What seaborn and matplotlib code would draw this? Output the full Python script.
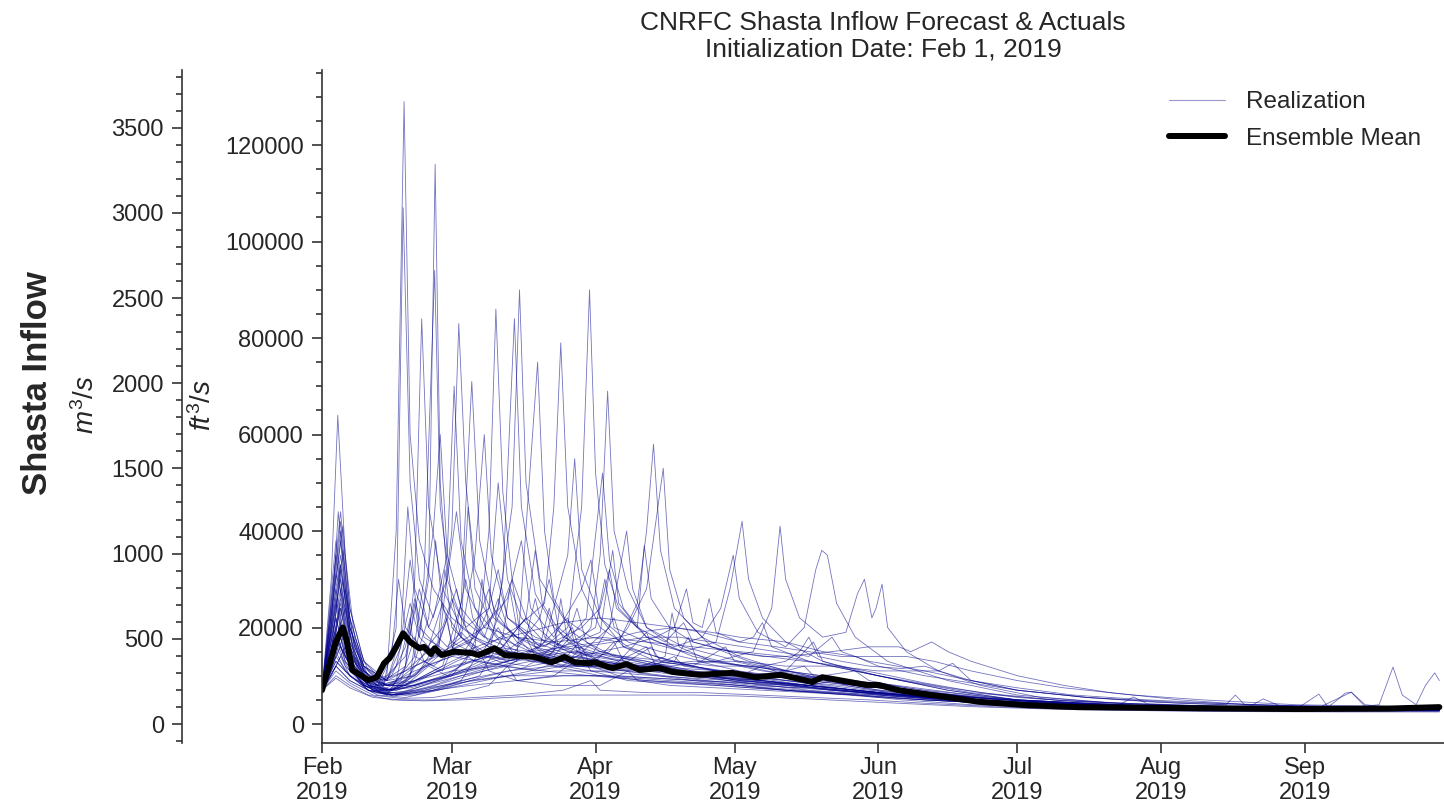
import numpy as np
import pandas as pd
import matplotlib
matplotlib.use("Agg")
import matplotlib.pyplot as plt
import matplotlib.dates as mdates
from matplotlib.ticker import MultipleLocator
from matplotlib.lines import Line2D
import seaborn as sns

# ---------------- data (day offset from Feb 1 2019, flow in 1000 ft^3/s) -------------
START = "2019-02-01"
month_ticks = ["2019-02-01", "2019-03-01", "2019-04-01", "2019-05-01",
               "2019-06-01", "2019-07-01", "2019-08-01", "2019-09-01"]

r01 = [(0,7),(2,14),(4,24),(6,14),(10,9),(14,10),(16,40),(17.7,129),(19,60),(21,38),(24,28),(28,22),(33,18),(40,15),(50,12),(60,10),(75,9),(90,8),(110,6.5),(130,5),(150,4),(180,3.2),(210,2.9),(241,2.8)]
r02 = [(0,7),(3,18),(5,12),(10,7.5),(16,9),(20,14),(23,30),(24.4,116),(25.5,50),(27,30),(30,22),(35,18),(38,26),(40,20),(45,15),(55,12),(65,11),(80,9),(100,7),(120,5.5),(150,4),(180,3.3),(210,3),(241,2.9)]
r03 = [(0,7),(3,35),(5,20),(8,10),(12,8),(18,12),(20,30),(21.5,84),(23,45),(26,28),(30,20),(36,16),(45,14),(52,13),(58,20),(60,35),(61.6,69),(63,40),(66,28),(70,20),(78,16),(90,13),(105,10),(120,8),(135,6),(150,4.5),(180,3.5),(210,3),(241,3)]
r04 = [(0,7),(4,28),(6,16),(10,8),(15,7),(20,10),(25,14),(28,40),(29.5,83),(31,50),(33,32),(37,22),(42,18),(48,16),(53,20),(56,45),(57.7,90),(59,52),(61,33),(64,24),(70,18),(80,14),(95,11),(110,9),(125,7),(150,5),(180,3.6),(210,3.1),(241,3)]
r05 = [(0,7),(3,22),(5,14),(9,8),(14,6.5),(20,9),(26,12),(30,25),(32.3,71),(34,38),(37,24),(42,17),(48,14),(55,12),(62,15),(66,20),(70,28),(73.6,53),(75,32),(78,22),(84,16),(92,13),(105,10),(120,7),(140,5),(160,4),(190,3.3),(220,3),(241,2.9)]
r06 = [(0,7),(4,42),(6,22),(9,12),(13,9),(18,11),(24,16),(30,14),(34,20),(36,40),(37.5,86),(39,48),(41,30),(44,22),(50,17),(58,14),(65,13),(72,12),(80,10),(95,8),(110,7),(130,5.5),(150,4.2),(180,3.4),(210,3),(241,2.9)]
r07 = [(0,7),(3,15),(5,11),(10,7),(15,6),(22,8),(30,11),(36,14),(39,30),(41.5,84),(43,45),(46,27),(50,20),(55,16),(62,14),(70,13),(78,11),(90,9),(105,8),(120,6),(140,4.5),(160,3.8),(190,3.2),(220,3),(241,2.8)]
r08 = [(0,7),(4,30),(6,17),(10,9),(15,8),(20,12),(27,15),(33,18),(38,24),(41,45),(42.6,90),(44,50),(47,30),(52,22),(58,18),(64,17),(68,25),(70,40),(71.5,58),(73,36),(76,24),(82,18),(90,14),(100,11),(115,9),(130,7),(150,5),(180,3.6),(210,3.1),(241,3)]
r09 = [(0,7),(3,25),(5,15),(9,9),(15,7),(20,9),(28,13),(35,16),(42,20),(48,25),(50,45),(51.5,79),(53,45),(56,28),(60,20),(66,16),(75,13),(85,11),(100,9),(115,7),(130,5.5),(150,4.3),(180,3.4),(210,3),(241,2.9)]
r10 = [(0,7),(4,20),(7,12),(11,7),(16,6),(22,8),(30,10),(40,12),(50,14),(57,22),(60.5,52),(62,34),(65,24),(70,18),(78,15),(85,17),(88,28),(90.6,42),(92,30),(95,22),(100,17),(108,13),(120,10),(135,7),(150,5),(180,3.6),(210,3.1),(241,3)]
r11 = [(0,7),(3,12),(6,9),(12,6),(18,5.5),(25,7),(35,9),(45,11),(55,14),(62,20),(65.7,40),(67,28),(70,20),(76,16),(82,18),(86,24),(88.7,35),(90,26),(94,19),(100,16),(104,20),(106.5,32),(107.8,36),(109,35),(111,25),(115,18),(122,13),(135,9),(150,6),(170,4.4),(200,3.4),(241,3)]
r12 = [(0,7),(4,35),(6,20),(9,11),(14,8),(20,9),(28,12),(36,14),(46,13),(55,12),(65,12),(75,12),(85,13),(93,15),(97,24),(98.8,41),(100,30),(103,22),(108,18),(113,19),(115.5,27),(117,30),(118.6,22),(119.5,24),(120.8,29),(122,20),(126,15),(133,11),(142,8),(155,5.5),(175,4),(205,3.3),(241,3)]
r13 = [(0,7),(3,19),(5,13),(9,8),(14,6),(20,6),(28,8),(36,10),(45,12),(55,14),(65,16),(72,18),(76,20),(78.6,28),(80,21),(82,20),(83.5,26),(85,19),(90,17),(93,18),(95,21),(97,16),(105,13),(115,11),(125,9),(135,7),(150,5),(170,4),(200,3.3),(241,3)]
r14 = [(0,7),(4,40),(6,22),(9,12),(14,9),(20,12),(28,16),(35,20),(42,18),(50,17),(60,18),(70,17),(80,16),(90,15),(100,14),(110,15),(118,16),(124.4,16),(127,15),(131.5,17),(135,15),(140,13),(150,10),(160,8),(170,6.5),(185,5),(200,4),(220,3.5),(241,3.2)]
r15 = [(0,7),(3,13),(6,10),(10,7),(15,6),(22,7),(30,9),(40,11),(50,12),(60,12),(70,12),(80,13),(90,13),(100,12),(110,12),(120,11),(128,11),(133,11),(136,12.6),(140,9),(150,7),(165,5.5),(180,4.5),(195,4),(197,6),(199,4),(215,3.5),(241,3.2)]
r16 = [(0,7),(4,16),(7,11),(12,7),(18,6),(25,7),(32,9),(40,10),(50,10),(60,10),(70,9),(80,8.5),(90,8),(100,7),(115,6),(130,5),(150,4),(175,3.4),(200,3.2),(220,3.2),(228,4),(231,11.8),(233,6),(236,4),(238,8),(240,10.6),(241,9)]
r17 = [(0,7),(3,28),(5,17),(9,9),(14,7),(20,9),(28,11),(38,12),(48,11),(58,10),(70,9),(85,8),(100,7),(120,6),(140,4.6),(160,3.8),(190,3.2),(210,3),(215,6.2),(217,3.5),(219,5),(220.7,6.4),(222,6.6),(225,4),(230,3.5),(241,3.2)]
r18 = [(0,7),(2,30),(3.4,64),(5,35),(7,18),(10,11),(14,8),(20,8),(26,10),(32,13),(40,15),(48,14),(56,13),(64,12),(72,11),(82,10),(95,9),(110,7.5),(125,6),(140,4.8),(160,3.8),(190,3.2),(220,3),(241,2.9)]
r19 = [(0,7),(3,20),(5,13),(9,8),(13,7),(16,20),(17.5,107),(19,50),(21,30),(24,22),(27,35),(28.5,70),(30,38),(33,24),(38,18),(45,15),(55,13),(65,12),(75,11),(90,9),(105,8),(120,6.5),(140,5),(160,4),(190,3.3),(220,3),(241,2.9)]
r20 = [(0,7),(4,25),(6,15),(10,8),(15,7),(19,10),(22,30),(24.3,94),(25.5,45),(28,26),(32,18),(38,15),(44,22),(46,36),(47.5,25),(52,18),(60,15),(70,13),(80,11),(95,9),(110,7),(125,6),(145,4.6),(170,3.7),(200,3.2),(241,3)]
r21 = [(0,7),(3,16),(6,11),(10,7),(14,6),(18,12),(20,25),(21,18),(25,14),(30,18),(33,35),(35,60),(36.5,35),(40,22),(46,17),(54,14),(62,13),(70,12),(80,10),(92,8.5),(105,7),(120,6),(140,4.6),(165,3.7),(200,3.2),(241,3)]
r22 = [(0,7),(4,44),(6,24),(9,13),(13,9),(18,14),(21,28),(23,20),(27,30),(29,44),(31,28),(35,20),(40,26),(43,38),(45,24),(50,18),(56,28),(58,34),(60,22),(65,16),(72,14),(80,12),(90,10),(105,8),(120,6.5),(140,5),(165,3.8),(200,3.2),(241,3)]
r23 = [(0,7),(3,10),(6,8),(10,6),(15,5),(22,4.8),(30,5),(40,5.5),(50,6),(60,6),(70,6),(80,6),(90,5.8),(105,5.2),(120,4.5),(140,3.6),(160,3),(190,2.6),(220,2.5),(241,2.5)]
r24 = [(0,7),(3,12),(6,9),(11,6.5),(16,6),(24,7),(30,9),(34,15),(36,11),(42,9),(50,10),(56,14),(58,11),(66,9),(75,8.5),(85,8),(100,7),(115,6),(130,5),(150,4),(175,3.3),(210,2.9),(241,2.8)]
r25 = [(0,7),(3,14),(6,10),(11,7),(16,7),(24,9),(32,11),(40,13),(48,15),(55,17),(60,19),(62.7,36),(64,25),(68,20),(69.5,37),(71,26),(75,20),(80,17),(88,15),(95,14),(100,14),(110,12),(120,10),(135,7.5),(150,5.5),(170,4.2),(200,3.4),(241,3.1)]
r26 = [(0,7),(4,33),(6,19),(9,11),(13,8),(16,9),(19,22),(20,14),(24,12),(28,15),(31,30),(32.5,22),(36,17),(41,30),(42.5,20),(47,16),(53,22),(55,15),(60,13),(68,12),(76,11),(88,10),(100,9),(112,8),(125,6.5),(140,5),(160,4),(190,3.3),(241,3)]
r27 = [(0,7),(3,18),(6,12),(10,8),(14,7),(18,9),(23,16),(26,25),(28,17),(34,14),(38,20),(41,15),(48,13),(54,20),(56,14),(62,12),(70,16),(72,12),(80,11),(90,10),(95,12),(100,10),(110,9),(120,8),(135,6),(150,4.8),(175,3.7),(210,3.1),(241,3)]
r28 = [(0,7),(3,22),(5,14),(9,9),(14,7),(20,8),(27,10),(35,12),(45,14),(55,15),(65,14),(75,13),(85,12),(95,12),(100,13),(103,15),(105,18),(107,14),(112,13),(118,12),(125,11.5),(130,12),(133,11),(140,9),(150,7),(165,5.5),(185,4.3),(210,3.5),(241,3.2)]
r29 = [(0,7),(4,38),(6,20),(9,12),(14,9),(17,16),(19,34),(21,20),(25,16),(29,28),(31,20),(36,24),(38,32),(40,22),(46,18),(52,16),(59,20),(61,30),(63,20),(70,17),(78,15),(86,13),(96,11),(108,9),(120,7.5),(135,6),(150,4.8),(175,3.7),(210,3.1),(241,3)]
r30 = [(0,7),(3,11),(6,8.5),(11,6),(17,5.3),(24,5.5),(30,6.5),(36,8),(40,12),(42,9),(50,8),(60,8),(66,11),(68,9),(75,8),(85,7.5),(95,7),(105,6.5),(115,6),(125,5),(140,4),(160,3.3),(190,2.8),(220,2.7),(241,2.7)]
r31 = [(0,7),(3,30),(4.5,41),(6,24),(9,13),(14,9),(20,10),(24,14),(27,22),(28,16),(33,13),(39,16),(44,22),(46,16),(53,14),(60,13),(67,12),(76,13),(79,18),(81,13),(90,11),(100,9.5),(110,8.5),(120,7.5),(135,6),(155,4.5),(180,3.6),(210,3.1),(241,3)]
r32 = [(0,7),(3,13),(6,10),(11,7),(16,6),(24,7),(32,8),(42,9),(52,10),(62,10),(72,9.5),(82,9),(92,8.5),(102,8),(112,7),(125,6),(140,5),(160,4.2),(172,4),(175,5.6),(178,4.2),(190,3.8),(200,3.6),(203,5.2),(207,3.6),(215,3.4),(222,6.6),(225,3.6),(241,3.3)]
r33 = [(0,7),(3,26),(5,16),(9,10),(14,8),(20,11),(28,14),(36,17),(44,19),(52,21),(60,22),(68,21),(76,20),(84,19),(90,18),(100,17),(108,15),(115,14),(120,12),(130,10),(140,8.5),(150,7),(165,5.5),(185,4.5),(210,3.8),(241,3.4)]
r34 = [(0,7),(4,24),(6,15),(10,9),(15,7),(21,9),(29,13),(37,16),(45,15),(53,16),(60,17),(68,19),(76,20),(82,19),(90,17),(98,16),(105,15),(112,14),(120,14),(126,14),(132,13),(140,11),(150,9),(160,7.5),(175,6),(190,5),(210,4),(241,3.5)]
r35 = [(0,7),(3,38),(5,22),(8,12),(12,8),(18,8),(25,11),(33,13),(40,12),(47,16),(49,24),(51,16),(58,13),(66,12),(74,11),(84,10),(94,9),(104,8),(116,7),(130,5.5),(150,4.2),(175,3.4),(210,3),(241,2.9)]
r36 = [(0,7),(3,9.5),(6,7.5),(11,5.5),(17,5),(25,5),(33,5.5),(42,6),(52,7),(58,9),(60,7),(70,6.5),(82,6.5),(94,6),(106,5.5),(118,5),(130,4.3),(145,3.6),(165,3),(195,2.7),(241,2.6)]
r37 = [(0,7),(2,15),(4,32),(6,18),(9,10),(12,8),(15,14),(16.5,30),(18,20),(22,15),(26,20),(28,26),(30,18),(35,14),(42,13),(46.5,75),(48,40),(50,26),(54,19),(60,15),(68,13),(78,11),(90,9.5),(105,8),(120,6.5),(140,5),(165,3.9),(200,3.2),(241,3)]
r38 = [(0,7),(2,12),(4,26),(6,16),(9,9),(13,7),(17,9),(20,18),(22,13),(26,11),(30,20),(31.5,45),(33,28),(37,20),(42,16),(47,22),(49,30),(51,20),(57,15),(64,13),(70,19),(72,14),(80,12),(92,10),(105,8.5),(118,7),(135,5.5),(155,4.3),(185,3.4),(241,3)]
r39 = [(0,7),(3,20),(4.5,30),(6,17),(9,10),(13,8),(16,12),(19,25),(21,18),(24,40),(25.5,60),(27,35),(30,24),(35,18),(40,16),(45,14),(52,13),(58,12),(63,17),(65,13),(72,11),(82,10),(95,8.5),(110,7),(125,5.8),(145,4.5),(170,3.6),(205,3.1),(241,2.9)]
r40 = [(0,7),(3,17),(5,24),(7,14),(10,9),(14,7),(18,8),(23,12),(27,10),(31,13),(36,24),(38,50),(40,30),(43,22),(48,17),(53,15),(58,14),(63,22),(65,16),(72,13),(80,12),(87,16),(89,13),(98,11),(110,9),(125,7),(140,5.5),(160,4.3),(190,3.4),(241,3)]
r41 = [(0,7),(2,13),(4,20),(6,13),(9,8),(13,6.5),(18,6.5),(24,8),(30,10),(37,12),(43,14),(48,17),(53,35),(54.5,55),(56,32),(60,22),(66,17),(73,15),(82,13),(92,12),(100,11),(106,17),(108,13),(115,11),(125,9),(140,6.5),(160,4.8),(185,3.8),(215,3.2),(241,3)]
r42 = [(0,7),(3,25),(4,33),(6,20),(9,12),(12,9),(15,10),(18,16),(20,26),(22,18),(27,15),(32,17),(36,28),(37.5,22),(42,18),(48,15),(55,13),(62,12),(70,11),(78,10),(85,9.5),(95,9),(105,8),(115,7),(128,5.8),(145,4.6),(170,3.7),(200,3.2),(241,3)]
r43 = [(0,7),(2,11),(4,18),(6,12),(10,8),(14,7),(19,7.5),(25,9),(31,11),(37,13),(44,15),(50,17),(56,20),(60,24),(62,32),(63.5,24),(68,20),(74,17),(78,21),(80,17),(88,15),(96,14),(104,13),(112,12),(120,10.5),(130,8.5),(142,6.5),(158,5),(180,4),(210,3.4),(241,3.1)]
r44 = [(0,7),(3,14),(5,19),(7,12),(11,7.5),(15,6.5),(20,7),(26,8),(33,9),(41,10),(50,11),(57,11),(63,11),(70,11.5),(76,14),(78,12),(85,11),(95,10),(105,9),(115,8),(125,7),(140,5.5),(160,4.3),(190,3.3),(241,2.9)]
r45 = [(0,7),(3,31),(5,24),(7,14),(10,10),(14,9),(17,18),(18.5,45),(20,28),(23,20),(27,16),(30,19),(34,15),(40,13),(44,18),(46,14),(52,12),(58,11),(65,10.5),(72,10),(80,9.5),(88,9),(96,8.5),(106,7.5),(118,6.5),(132,5.2),(150,4.2),(175,3.4),(210,3),(241,2.9)]
r46 = [(0,7),(2,10),(4,14),(6,10),(10,7),(15,6),(20,6.5),(27,8),(34,10),(39,18),(40.5,28),(42,20),(47,15),(53,13),(60,12),(67,11),(74,14),(75.5,23),(77,16),(84,13),(92,12),(100,11),(108,10),(115,11),(118,9),(126,7.5),(140,5.5),(160,4.2),(190,3.3),(241,2.9)]
r47 = [(0,7),(3,23),(4.5,36),(6,20),(9,11),(13,8),(17,8),(21,11),(25,17),(26.5,32),(28,20),(33,15),(38,13),(44,12),(50,15),(51.5,26),(53,17),(60,13),(67,12),(75,11),(83,10),(92,9),(102,8),(112,7),(125,6),(140,4.8),(160,3.9),(195,3.2),(241,2.9)]
r48 = [(0,7),(2,12),(4,21),(6,13),(9,8.5),(13,7),(18,7.5),(23,9),(28,10),(33,16),(34.5,30),(36,20),(40,15),(45,13),(51,12),(58,12),(66,11),(74,10),(83,9),(93,8),(103,7.5),(110,9),(113,8),(122,6.5),(135,5.2),(150,4.2),(175,3.4),(205,3),(241,2.8)]
r49 = [(0,7),(3,16),(5,28),(7,16),(10,9.5),(14,8),(19,10),(23,22),(24.5,38),(26,24),(30,18),(35,15),(41,14),(47,14),(53,18),(55,24),(57,17),(63,14),(70,12.5),(78,11.5),(86,11),(94,10.5),(103,10),(112,9),(120,8),(132,6.5),(145,5.2),(165,4.2),(195,3.4),(241,3.1)]
r50 = [(0,7),(3,18),(5,14),(8,9),(12,7),(16,7),(21,8.5),(27,10),(33,12),(38,14),(44,18),(46,26),(48,18),(54,15),(60,14),(66,13),(71,16),(73,13),(79,12),(87,11),(96,10),(104,12),(106,10),(114,9),(124,8),(136,6.5),(150,5),(170,4),(200,3.3),(241,3)]
r51 = [(0,7),(2,20),(3.5,44),(5,28),(7,16),(10,10),(14,8),(18,9),(22,12),(28,14),(34,13),(40,12),(46,11),(52,12),(56,16),(58,12),(64,10),(72,9.5),(80,9),(90,8.5),(100,8),(110,7),(122,6),(136,5),(152,4),(180,3.3),(210,3),(241,2.9)]
r52 = [(0,7),(3,12),(5,16),(7,11),(11,7),(15,6),(21,7),(28,9),(35,11),(42,13),(49,15),(56,16),(63,17),(70,18),(77,18),(84,17),(91,16),(98,15),(105,14),(110,18),(112,15),(118,13),(124,12),(130,11),(140,9),(150,7.5),(162,6),(178,5),(200,4),(225,3.5),(241,3.3)]

realizations = [r01, r02, r03, r04, r05, r06, r07, r08, r09, r10, r11, r12,
                r13, r14, r15, r16, r17, r18, r19, r20, r21, r22, r23, r24,
                r25, r26, r27, r28, r29, r30, r31, r32, r33, r34, r35, r36,
                r37, r38, r39, r40, r41, r42, r43, r44, r45, r46, r47, r48,
                r49, r50, r51, r52]

mean_days = [0, 1.5, 3, 4.5, 5.3, 6.5, 10, 11.8, 13.4, 14.6, 16, 17.5, 19, 21, 22, 23.5, 24.3,
             25.8, 28.6, 32.3, 33.8, 37.2, 39.4, 45.9, 49.5, 52.3, 54.5, 57.5, 58.8, 61.8,
             62.7, 65.7, 68.5, 72.8, 75.6, 81.4, 88.5, 93.6, 99, 105.7, 107.9, 111.5, 117.3,
             120, 124.4, 127, 134.5, 141.7, 152, 163, 185, 210, 230, 241]
mean_kcfs = [7, 12, 17, 20, 17.4, 11.2, 9.1, 9.7, 12.6, 13.7, 16, 18.8, 17, 15.7, 16, 14.5, 15.7,
             14.3, 15, 14.7, 14.3, 15.7, 14.3, 13.9, 12.8, 13.9, 12.8, 12.6, 12.8, 11.8,
             11.6, 12.4, 11.2, 11.6, 10.8, 10.2, 10.6, 9.7, 10.2, 8.7, 9.7, 9.1, 8.1,
             8.1, 7, 6.6, 5.6, 4.6, 3.9, 3.5, 3.3, 3.1, 3.2, 3.5]

CFS_PER_CMS = 35.3147

# ---------------- build tables ----------------
start = pd.Timestamp(START)
rows = []
for i, r in enumerate(realizations):
    for d, v in r:
        rows.append((i, start + pd.to_timedelta(d, unit="D"), v * 1000.0))
real_df = pd.DataFrame(rows, columns=["member", "date", "cfs"])
mean_df = pd.DataFrame({
    "date": [start + pd.to_timedelta(d, unit="D") for d in mean_days],
    "cfs": [v * 1000.0 for v in mean_kcfs],
})

# ---------------- style ----------------
sns.set_theme(style="ticks")
plt.rcParams["font.family"] = ["Liberation Sans", "DejaVu Sans"]
plt.rcParams["mathtext.fontset"] = "custom"
plt.rcParams["mathtext.it"] = "Liberation Sans:italic"
plt.rcParams["mathtext.rm"] = "Liberation Sans"
plt.rcParams["mathtext.bf"] = "Liberation Sans:bold"
TXT = "#262626"

fig = plt.figure(figsize=(14.44, 8.05), dpi=100)
ax = fig.add_axes([0.2230, 0.0770, 0.7770, 0.8360])

real_color = "#00008B"
sns.lineplot(data=real_df, x="date", y="cfs", units="member", estimator=None,
             color=real_color, lw=0.6, alpha=0.55, ax=ax, legend=False)
sns.lineplot(data=mean_df, x="date", y="cfs", color="black", lw=4.3, ax=ax,
             legend=False)

ylo, yhi = -3940, 135540
ax.set_xlim(start, pd.Timestamp("2019-10-01"))
ax.set_ylim(ylo, yhi)
ax.set_xticks([pd.Timestamp(t) for t in month_ticks])
ax.xaxis.set_major_formatter(mdates.DateFormatter("%b\n%Y"))
ax.yaxis.set_major_locator(MultipleLocator(20000))
ax.yaxis.set_minor_locator(MultipleLocator(5000))
ax.set_xlabel("")
ax.set_ylabel("")
for s in ["top", "right"]:
    ax.spines[s].set_visible(False)
for s in ["left", "bottom"]:
    ax.spines[s].set_linewidth(1.2)
    ax.spines[s].set_color("#333333")
ax.tick_params(axis="both", which="major", labelsize=17, length=7, width=1.2,
               pad=6, colors="#333333", labelcolor=TXT)
ax.tick_params(axis="x", which="major", pad=3)
ax.tick_params(axis="y", which="minor", length=4.5, width=1.2, colors="#333333")

# secondary metric axis
ax2 = ax.twinx()
ax2.set_ylim(ylo / CFS_PER_CMS, yhi / CFS_PER_CMS)
ax2.yaxis.tick_left()
ax2.yaxis.set_label_position("left")
for s in ["top", "right", "bottom"]:
    ax2.spines[s].set_visible(False)
ax2.spines["left"].set_visible(True)
ax2.spines["left"].set_position(("outward", 100.8))
ax2.spines["left"].set_linewidth(1.2)
ax2.spines["left"].set_color("#333333")
ax2.yaxis.set_major_locator(MultipleLocator(500))
ax2.yaxis.set_minor_locator(MultipleLocator(100))
ax2.tick_params(axis="y", which="major", labelsize=17, length=7, width=1.2,
                pad=6, colors="#333333", labelcolor=TXT)
ax2.tick_params(axis="y", which="minor", length=4.5, width=1.2, colors="#333333")

# labels
W, H = 1444.0, 805.0
fig.text(38 / W, 1 - 383 / H, "Shasta Inflow", rotation=90, ha="center",
         va="center", fontsize=25, fontweight="bold", color=TXT)
fig.text(86 / W, 1 - 405 / H, r"$m^3/s$", rotation=90, ha="center",
         va="center", fontsize=20, color=TXT)
fig.text(203 / W, 1 - 405 / H, r"$ft^3/s$", rotation=90, ha="center",
         va="center", fontsize=20, color=TXT)
fig.text(883 / W, 1 - 36 / H,
         "CNRFC Shasta Inflow Forecast & Actuals\nInitialization Date: Feb 1, 2019",
         ha="center", va="center", fontsize=19, color=TXT, linespacing=1.15)

handles = [Line2D([], [], color=real_color, lw=0.8, alpha=0.4),
           Line2D([], [], color="black", lw=4.3)]
fig.legend(handles, ["Realization", "Ensemble Mean"], loc="upper right",
           bbox_to_anchor=(1421 / W, 1 - 91 / H), frameon=False, fontsize=17.5,
           handlelength=2.3, handletextpad=0.85, labelspacing=0.6,
           borderaxespad=0, borderpad=0, labelcolor=TXT)

fig.savefig("out.png", dpi=100)
